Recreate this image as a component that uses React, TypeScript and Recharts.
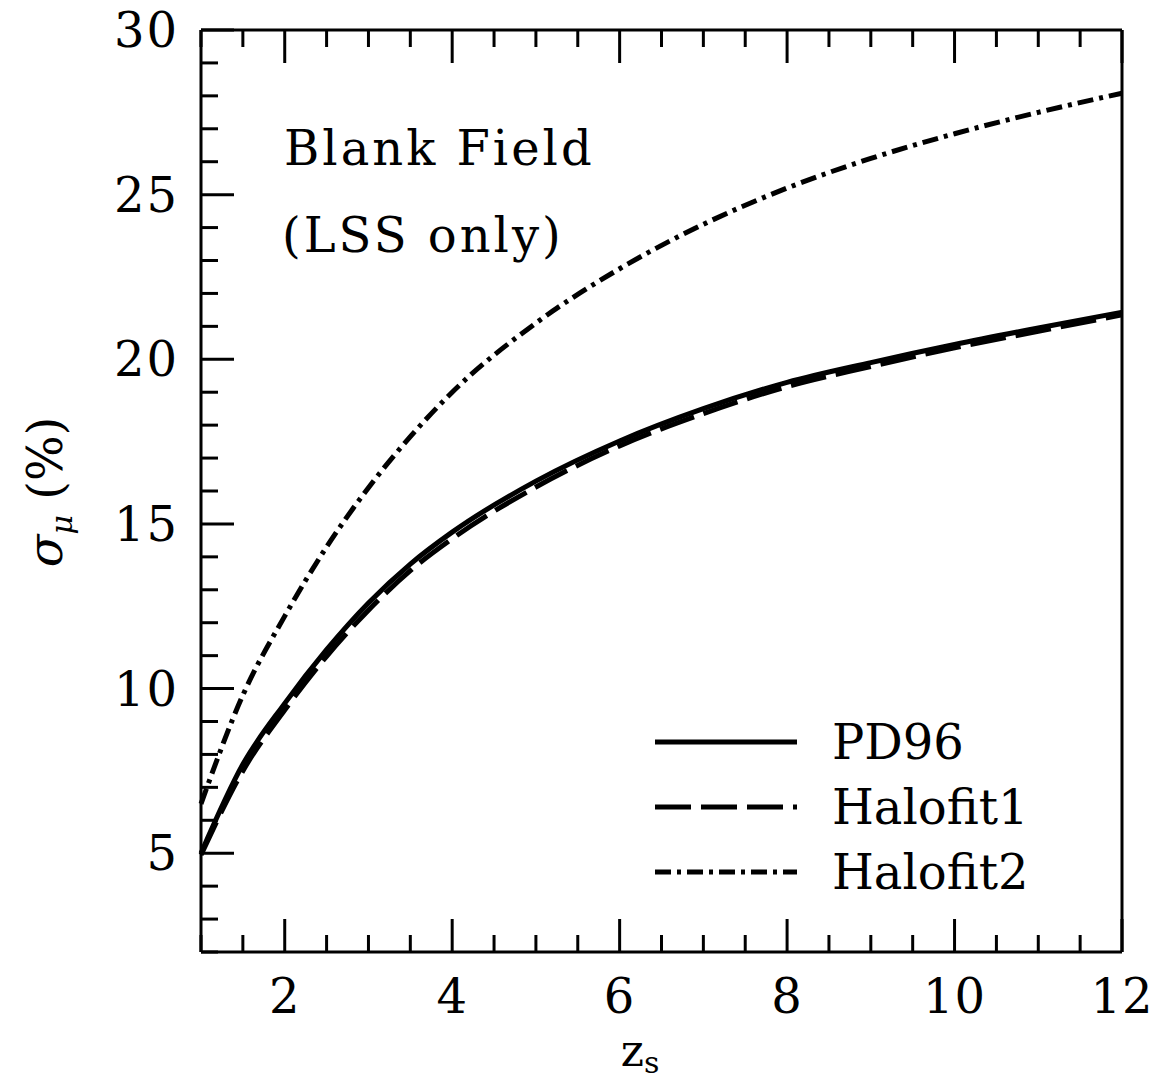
import { Customized, Legend, Line, LineChart, XAxis, YAxis } from 'recharts'

// source redshift
const zs = [1, 1.5, 2, 2.5, 3, 3.5, 4, 5, 6, 7, 8, 9, 10, 11, 12]
// sigma_mu (%) per model
const pd96 = [5.0, 7.7, 9.55, 11.18, 12.6, 13.78, 14.75, 16.3, 17.52, 18.5, 19.3, 19.9, 20.45, 20.95, 21.43]
const halofit1 = [4.95, 7.5, 9.35, 10.98, 12.38, 13.58, 14.55, 16.12, 17.37, 18.35, 19.17, 19.78, 20.35, 20.85, 21.35]
const halofit2 = [6.5, 9.8, 12.2, 14.3, 16.1, 17.65, 19.0, 21.1, 22.75, 24.1, 25.2, 26.1, 26.85, 27.5, 28.08]

const xTicks = [1, 1.5, 2, 2.5, 3, 3.5, 4, 4.5, 5, 5.5, 6, 6.5, 7, 7.5, 8, 8.5, 9, 9.5, 10, 10.5, 11, 11.5, 12]
const xLabels = [2, 4, 6, 8, 10, 12]
const yTicks = [2, 3, 4, 5, 6, 7, 8, 9, 10, 11, 12, 13, 14, 15, 16, 17, 18, 19, 20, 21, 22, 23, 24, 25, 26, 27, 28, 29, 30]
const yLabels = [5, 10, 15, 20, 25, 30]

const series = [
  { key: 'pd96', name: 'PD96', width: 5, dash: undefined as string | undefined },
  { key: 'halofit1', name: 'Halofit1', width: 5, dash: '36 10' },
  { key: 'halofit2', name: 'Halofit2', width: 5, dash: '16 6 4 6' },
]

const data = zs.map((z, i) => ({ z, pd96: pd96[i], halofit1: halofit1[i], halofit2: halofit2[i] }))

const FONT = '"DejaVu Serif", serif'
const MAJOR = 33
const MINOR = 17

function BottomTick({ x, y, payload }: any) {
  const major = xLabels.includes(payload.value)
  return (
    <g>
      <line x1={x} y1={y} x2={x} y2={y - (major ? MAJOR : MINOR)} stroke="#000" strokeWidth={3} />
      {major && (
        <text x={x} y={y + 61} textAnchor="middle" fontSize={48} fontFamily={FONT} fill="#000" letterSpacing={1}>
          {payload.value}
        </text>
      )}
    </g>
  )
}

function TopTick({ x, y, payload }: any) {
  const major = xLabels.includes(payload.value)
  return <line x1={x} y1={y} x2={x} y2={y + (major ? MAJOR : MINOR)} stroke="#000" strokeWidth={3} />
}

function LeftTick({ x, y, payload }: any) {
  const major = yLabels.includes(payload.value)
  return (
    <g>
      <line x1={x} y1={y} x2={x + (major ? MAJOR : MINOR)} y2={y} stroke="#000" strokeWidth={3} />
      {major && (
        <text x={x - 22} y={y + 17} textAnchor="end" fontSize={48} fontFamily={FONT} fill="#000" letterSpacing={2}>
          {payload.value}
        </text>
      )}
    </g>
  )
}

function RightTick({ x, y, payload }: any) {
  const major = yLabels.includes(payload.value)
  return <line x1={x} y1={y} x2={x - (major ? MAJOR : MINOR)} y2={y} stroke="#000" strokeWidth={3} />
}

function LegendBox() {
  return (
    <svg width={420} height={200}>
      {series.map((s, i) => (
        <g key={s.key}>
          <line x1={5} x2={147} y1={28 + i * 65} y2={28 + i * 65} stroke="#000" strokeWidth={s.width} strokeDasharray={s.dash} />
          <text x={182} y={45 + i * 65} fontSize={48} fontFamily={FONT} fill="#000">
            {s.name}
          </text>
        </g>
      ))}
    </svg>
  )
}

function Annotations() {
  return (
    <g fontFamily={FONT} fill="#000">
      <text x={284} y={165} fontSize={48} letterSpacing={3}>Blank Field</text>
      <text x={282} y={252} fontSize={48} letterSpacing={3}>(LSS only)</text>
      <text transform="translate(62, 492) rotate(-90)" textAnchor="middle" fontSize={48}>
        <tspan fontStyle="italic">σ</tspan>
        <tspan fontStyle="italic" fontSize={30} dy={10}>μ</tspan>
        <tspan dy={-10}>{'  (%)'}</tspan>
      </text>
      <text x={640} y={1066} textAnchor="middle" fontSize={44}>
        z<tspan fontSize={30} dy={7}>s</tspan>
      </text>
    </g>
  )
}

export default function App() {
  return (
    <div style={{ position: 'absolute', left: 0, top: 0 }}>
      <LineChart
        width={1162}
        height={1084}
        data={data}
        margin={{ top: 20, right: 20, bottom: 32, left: 101 }}
        style={{ background: '#fff' }}
      >
        <XAxis
          xAxisId="b"
          dataKey="z"
          type="number"
          domain={[1, 12]}
          ticks={xTicks}
          interval={0}
          height={100}
          tickSize={0}
          tickMargin={0}
          tickLine={false}
          axisLine={{ stroke: '#000', strokeWidth: 3 }}
          tick={<BottomTick />}
        />
        <XAxis
          xAxisId="t"
          orientation="top"
          dataKey="z"
          type="number"
          domain={[1, 12]}
          ticks={xTicks}
          interval={0}
          height={10}
          tickSize={0}
          tickMargin={0}
          tickLine={false}
          axisLine={{ stroke: '#000', strokeWidth: 3 }}
          tick={<TopTick />}
        />
        <YAxis
          yAxisId="l"
          type="number"
          domain={[2, 30]}
          ticks={yTicks}
          interval={0}
          width={100}
          tickSize={0}
          tickMargin={0}
          tickLine={false}
          axisLine={{ stroke: '#000', strokeWidth: 3 }}
          tick={<LeftTick />}
        />
        <YAxis
          yAxisId="r"
          orientation="right"
          type="number"
          domain={[2, 30]}
          ticks={yTicks}
          interval={0}
          width={20}
          tickSize={0}
          tickMargin={0}
          tickLine={false}
          axisLine={{ stroke: '#000', strokeWidth: 3 }}
          tick={<RightTick />}
        />
        {series.map((s) => (
          <Line
            key={s.key}
            xAxisId="b"
            yAxisId="l"
            type="monotone"
            dataKey={s.key}
            name={s.name}
            stroke="#000"
            strokeWidth={s.width}
            strokeDasharray={s.dash}
            dot={false}
            activeDot={false}
            isAnimationActive={false}
          />
        ))}
        <Legend
          layout="vertical"
          align="center"
          verticalAlign="middle"
          content={<LegendBox />}
          wrapperStyle={{ left: 650, top: 714, width: 420, height: 200 }}
        />
        <Customized component={<Annotations />} />
      </LineChart>
    </div>
  )
}
